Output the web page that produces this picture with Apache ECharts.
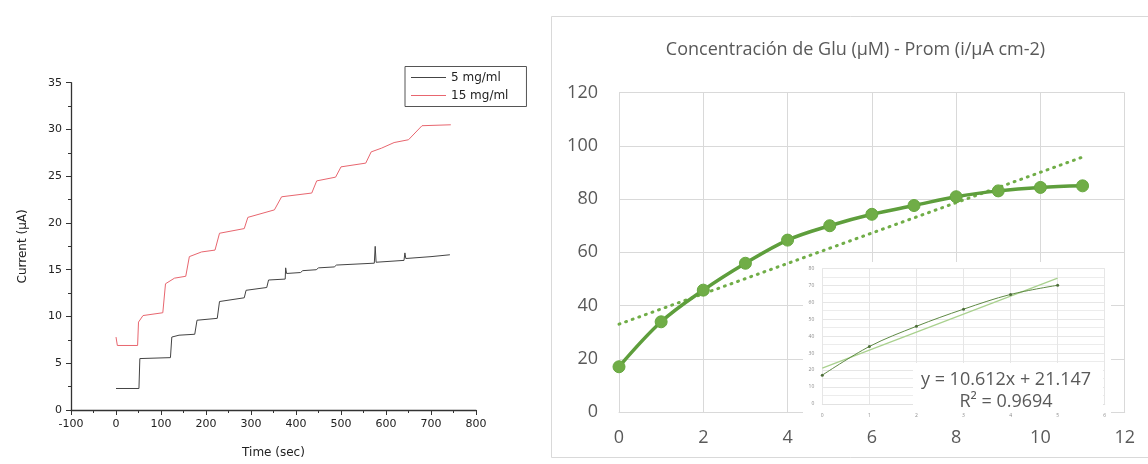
<!DOCTYPE html>
<html>
<head>
<meta charset="utf-8">
<script src="https://cdn.jsdelivr.net/npm/echarts@6/dist/echarts.min.js"></script>
<style>
  html, body { margin: 0; padding: 0; background: #ffffff; }
  #chart { width: 1148px; height: 464px; }
</style>
</head>
<body>
<div id="chart"></div>
<script>
// Amperometric response: current vs time for two enzyme loadings
const timeLow = [0, 51, 53, 121, 124, 140, 175, 180, 225, 230, 285, 289, 335, 339, 376, 377, 379, 410, 415, 445, 450, 485, 490, 574, 576, 578, 640, 642, 644, 700, 742];
const currentLow = [2.3, 2.3, 5.5, 5.6, 7.8, 8.0, 8.1, 9.6, 9.8, 11.6, 12.0, 12.8, 13.1, 13.9, 14.0, 15.2, 14.6, 14.7, 14.9, 15.0, 15.2, 15.3, 15.5, 15.7, 17.5, 15.8, 16.0, 16.8, 16.2, 16.4, 16.6];
const timeHigh = [0, 3, 48, 50, 60, 104, 110, 130, 155, 163, 190, 220, 230, 285, 293, 352, 368, 435, 446, 488, 500, 555, 567, 590, 618, 650, 680, 744];
const currentHigh = [7.8, 6.9, 6.9, 9.4, 10.1, 10.4, 13.5, 14.1, 14.3, 16.4, 16.9, 17.1, 18.9, 19.4, 20.6, 21.4, 22.8, 23.2, 24.5, 24.9, 26.0, 26.4, 27.6, 28.0, 28.6, 28.9, 30.4, 30.5];
const seriesNames = ['5 mg/ml', '15 mg/ml'];

// Calibration: mean current density vs glutamate concentration
const concentration = [0, 1, 2, 3, 4, 5, 6, 7, 8, 9, 10, 11];
const meanCurrent = [17.0, 33.9, 45.8, 55.9, 64.6, 70.0, 74.3, 77.6, 80.9, 83.1, 84.4, 85.0];
const trendConc = [0, 11];
const trendCurrent = [33.0, 95.8];

// Linear-range detail (first six standards) and its fitted equation
const linearPoints = 6;
const fitSlope = 10.612;
const fitIntercept = 21.147;
const fitR2 = 0.9694;
const fitRange = [0, 5];

const titleText = 'Concentración de Glu (µM) - Prom (i/µA cm-2)';

const zip = (xs, ys) => xs.map((x, i) => [x, ys[i]]);
const linConc = concentration.slice(0, linearPoints);
const linCurrent = meanCurrent.slice(0, linearPoints);
const fitLine = fitRange.map(x => [x, fitSlope * x + fitIntercept]);

const originFont = '"DejaVu Sans", sans-serif';
const excelFont = '"Open Sans", sans-serif';
const green = '#70ad47';
const excelGrey = '#595959';
const gridGrey = '#d9d9d9';

const chart = echarts.init(document.getElementById('chart'), null, { renderer: 'canvas' });

const originAxisLine = { show: true, onZero: false, lineStyle: { color: '#333333', width: 1.3 } };

chart.setOption({
  animation: false,
  backgroundColor: '#ffffff',
  grid: [
    { left: 71, top: 82.7, width: 405, height: 327.3 },
    { left: 619, top: 92.7, width: 505.7, height: 319.3 },
    { left: 822.3, top: 268.3, width: 282.4, height: 135.7, z: 20 }
  ],
  legend: {
    data: seriesNames,
    orient: 'vertical',
    left: 405,
    top: 66.5,
    padding: [5, 18, 5, 6],
    itemGap: 6,
    itemWidth: 35,
    itemHeight: 1,
    icon: 'rect',
    borderColor: '#555555',
    borderWidth: 1,
    textStyle: { fontFamily: originFont, fontSize: 12, color: '#222222' }
  },
  xAxis: [
    {
      gridIndex: 0, type: 'value', min: -100, max: 800, interval: 100,
      name: 'Time (sec)', nameLocation: 'middle', nameGap: 37,
      nameTextStyle: { fontFamily: originFont, fontSize: 12, color: '#222222' },
      axisLine: originAxisLine,
      axisTick: { show: true, inside: false, length: 5, lineStyle: { color: '#333333' } },
      minorTick: { show: true, splitNumber: 2, length: 3, lineStyle: { color: '#333333' } },
      axisLabel: { fontFamily: originFont, fontSize: 11, color: '#222222', margin: 9 },
      splitLine: { show: false }
    },
    {
      gridIndex: 1, type: 'value', min: 0, max: 12, interval: 2,
      axisLine: { show: true, lineStyle: { color: gridGrey, width: 1 } },
      axisTick: { show: false },
      axisLabel: { fontFamily: excelFont, fontSize: 18, color: excelGrey, margin: 17 },
      splitLine: { show: true, lineStyle: { color: gridGrey, width: 1 } }
    },
    {
      gridIndex: 2, type: 'value', min: 0, max: 6, interval: 1, z: 20,
      axisLine: { show: true, lineStyle: { color: '#e2e2e2', width: 1 } },
      axisTick: { show: false },
      axisLabel: { fontFamily: excelFont, fontSize: 5, color: '#8c8c8c', margin: 9 },
      splitLine: { show: true, lineStyle: { color: '#e6e6e6', width: 1 } }
    }
  ],
  yAxis: [
    {
      gridIndex: 0, type: 'value', min: 0, max: 35, interval: 5,
      name: 'Current (µA)', nameLocation: 'middle', nameGap: 42, nameRotate: 90,
      nameTextStyle: { fontFamily: originFont, fontSize: 12, color: '#222222' },
      axisLine: originAxisLine,
      axisTick: { show: true, inside: false, length: 5, lineStyle: { color: '#333333' } },
      minorTick: { show: true, splitNumber: 2, length: 3, lineStyle: { color: '#333333' } },
      axisLabel: { fontFamily: originFont, fontSize: 11, color: '#222222', margin: 9 },
      splitLine: { show: false }
    },
    {
      gridIndex: 1, type: 'value', min: 0, max: 120, interval: 20,
      axisLine: { show: false },
      axisTick: { show: false },
      axisLabel: { fontFamily: excelFont, fontSize: 18, color: excelGrey, margin: 21 },
      splitLine: { show: true, lineStyle: { color: gridGrey, width: 1 } }
    },
    {
      gridIndex: 2, type: 'value', min: 0, max: 80, interval: 10, z: 20,
      axisLine: { show: false },
      axisTick: { show: false },
      axisLabel: { fontFamily: excelFont, fontSize: 5, color: '#8c8c8c', margin: 8 },
      splitLine: { show: true, lineStyle: { color: '#e6e6e6', width: 1 } },
      minorSplitLine: { show: true, lineStyle: { color: '#ececec', width: 1 } },
      minorTick: { show: false, splitNumber: 2 }
    }
  ],
  graphic: [
    {
      type: 'rect', z: 1, silent: true,
      shape: { x: 551.5, y: 16.5, width: 610, height: 441 },
      style: { fill: 'none', stroke: gridGrey, lineWidth: 1 }
    },
    {
      type: 'text', z: 1, silent: true,
      style: {
        text: titleText, x: 855.5, y: 50, textAlign: 'center', textVerticalAlign: 'middle',
        font: '18px "Open Sans", sans-serif', fill: excelGrey
      }
    },
    {
      type: 'rect', z: 10, silent: true,
      shape: { x: 803, y: 262, width: 308, height: 162 },
      style: { fill: '#ffffff', stroke: 'none' }
    },
    {
      type: 'rect', z: 40, silent: true,
      shape: { x: 913, y: 363, width: 190, height: 47 },
      style: { fill: '#ffffff', stroke: 'none' }
    },
    {
      type: 'text', z: 41, silent: true,
      style: {
        text: 'y = ' + fitSlope.toFixed(3) + 'x + ' + fitIntercept.toFixed(3) + '\nR² = ' + fitR2.toFixed(4),
        x: 1006, y: 391, textAlign: 'center', textVerticalAlign: 'middle',
        font: '18px "Open Sans", sans-serif', lineHeight: 22, fill: excelGrey
      }
    }
  ],
  series: [
    {
      name: seriesNames[0], type: 'line', xAxisIndex: 0, yAxisIndex: 0,
      data: zip(timeLow, currentLow), showSymbol: false, symbol: 'none',
      lineStyle: { color: '#444444', width: 1 }, itemStyle: { color: '#444444' }
    },
    {
      name: seriesNames[1], type: 'line', xAxisIndex: 0, yAxisIndex: 0,
      data: zip(timeHigh, currentHigh), showSymbol: false, symbol: 'none',
      lineStyle: { color: '#e8666f', width: 1 }, itemStyle: { color: '#e8666f' }
    },
    {
      type: 'line', xAxisIndex: 1, yAxisIndex: 1, z: 3,
      data: zip(trendConc, trendCurrent), symbol: 'none',
      lineStyle: { color: green, width: 3, type: [1, 6], cap: 'round' }
    },
    {
      type: 'line', xAxisIndex: 1, yAxisIndex: 1, z: 4,
      data: zip(concentration, meanCurrent), smooth: 0.35,
      symbol: 'circle', symbolSize: 12,
      lineStyle: { color: '#5e9e3c', width: 3.5 },
      itemStyle: { color: green, borderColor: '#66a83f', borderWidth: 1 }
    },
    {
      type: 'line', xAxisIndex: 2, yAxisIndex: 2, z: 22,
      data: fitLine, symbol: 'none',
      lineStyle: { color: '#a9d18e', width: 1.2 }
    },
    {
      type: 'line', xAxisIndex: 2, yAxisIndex: 2, z: 23,
      data: zip(linConc, linCurrent), smooth: 0.35,
      symbol: 'circle', symbolSize: 3,
      lineStyle: { color: '#5f8a45', width: 1 },
      itemStyle: { color: '#4d6e3a' }
    }
  ]
});
</script>
</body>
</html>
